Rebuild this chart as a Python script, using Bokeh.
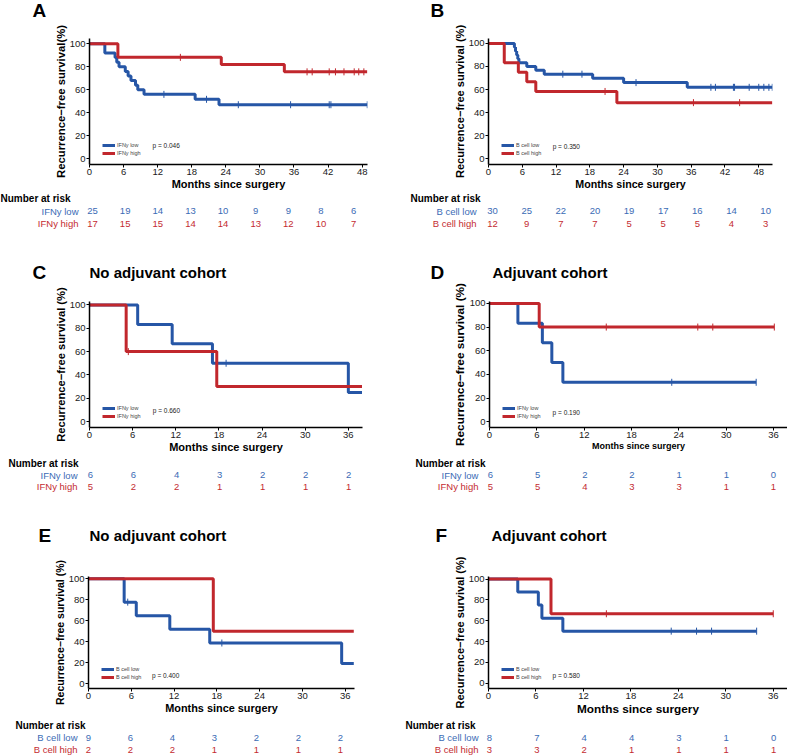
import numpy as np
from bokeh.plotting import figure
from bokeh.layouts import column, row
from bokeh.models import Range1d, FixedTicker, Legend, LegendItem, Label
from bokeh.core.properties import value
from bokeh.embed import file_html
from bokeh.resources import INLINE

BLUE = "#2656a6"
RED = "#c1272d"
BLUE_TXT = "#3b6bb5"
RED_TXT = "#c42b31"
FONT = "Liberation Sans"

# ---------------- data ----------------
y_ticks = [0, 20, 40, 60, 80, 100]
months_48 = [0, 6, 12, 18, 24, 30, 36, 42, 48]
months_36 = [0, 6, 12, 18, 24, 30, 36]

# Panel A - IFNy, all patients
a_low_times = [2.7, 4.5, 4.8, 5.2, 6.3, 6.8, 7.3, 8.1, 8.5, 9.6, 18.6, 22.8]
a_low_surv = [92, 88, 84, 80, 76, 72, 68, 64, 60, 56, 51.7, 47.0]
a_low_cens = [13.1, 20.6, 26.2, 35.4, 42.2, 42.5, 48.9]
a_low_end = 48.9
a_high_times = [5.0, 23.2, 34.3]
a_high_surv = [88.2, 81.9, 75.6]
a_high_cens = [16.0, 38.3, 39.2, 42.2, 43.3, 44.8, 46.6, 47.4, 48.3]
a_high_end = 48.9
a_risk_low = [25, 19, 14, 13, 10, 9, 9, 8, 6]
a_risk_high = [17, 15, 15, 14, 14, 13, 12, 10, 7]

# Panel B - B cell, all patients
b_low_times = [4.6, 4.8, 5.0, 5.2, 5.4, 6.8, 8.4, 9.9, 18.5, 24.0, 35.3]
b_low_surv = [96.7, 93.3, 90.0, 86.7, 83.3, 80.0, 76.7, 73.3, 69.7, 66.0, 61.9]
b_low_cens = [13.2, 16.6, 26.2, 39.5, 40.3, 43.5, 43.7, 46.3, 48.0, 48.9, 49.8, 50.4]
b_low_end = 50.4
b_high_times = [2.8, 5.3, 6.8, 8.4, 22.8]
b_high_surv = [83.3, 75.0, 66.7, 58.3, 48.6]
b_high_cens = [20.7, 36.4, 44.6]
b_high_end = 50.4
b_risk_low = [30, 25, 22, 20, 19, 17, 16, 14, 10]
b_risk_high = [12, 9, 7, 7, 5, 5, 5, 4, 3]

# Panel C - IFNy, no adjuvant
c_low_times = [6.7, 11.5, 17.1, 36.0]
c_low_surv = [83.3, 66.7, 50.0, 25.0]
c_low_cens = [19.0]
c_low_end = 37.9
c_high_times = [5.1, 17.7]
c_high_surv = [60.0, 30.0]
c_high_cens = [5.4]
c_high_end = 37.9
c_risk_low = [6, 6, 4, 3, 2, 2, 2]
c_risk_high = [5, 2, 2, 1, 1, 1, 1]

# Panel D - IFNy, adjuvant
d_low_times = [3.6, 6.7, 7.9, 9.3]
d_low_surv = [83.3, 66.7, 50.0, 33.3]
d_low_cens = [23.1, 33.8]
d_low_end = 33.8
d_high_times = [6.3]
d_high_surv = [80.0]
d_high_cens = [14.8, 26.4, 28.3, 36.1]
d_high_end = 36.1
d_risk_low = [6, 5, 2, 2, 1, 1, 0]
d_risk_high = [5, 5, 4, 3, 3, 1, 1]

# Panel E - B cell, no adjuvant
e_low_times = [5.0, 6.7, 11.4, 17.0, 35.5]
e_low_surv = [77.8, 64.8, 51.9, 38.9, 19.4]
e_low_cens = [5.5, 18.7]
e_low_end = 37.2
e_high_times = [17.5]
e_high_surv = [50.0]
e_high_cens = []
e_high_end = 37.2
e_risk_low = [9, 6, 4, 3, 2, 2, 2]
e_risk_high = [2, 2, 2, 1, 1, 1, 1]

# Panel F - B cell, adjuvant
f_low_times = [3.7, 6.3, 6.75, 9.4]
f_low_surv = [87.5, 75.0, 62.5, 50.0]
f_low_cens = [23.1, 26.3, 28.2, 33.9]
f_low_end = 33.9
f_high_times = [7.9]
f_high_surv = [66.7]
f_high_cens = [14.9, 36.0]
f_high_end = 36.0
f_risk_low = [8, 7, 4, 4, 3, 1, 0]
f_risk_high = [3, 3, 2, 1, 1, 1, 1]

ifn_labels = ["IFNy low", "IFNy high"]
bcell_labels = ["B cell low", "B cell high"]
ylab_a = "Recurrence\u2212free survival(%)"
ylab = "Recurrence\u2212free survival (%)"
xlab = "Months since surgery"


def surv_at(t, times, surv):
    idx = np.searchsorted(np.asarray(times), np.asarray(t), side="right")
    s = np.concatenate([[100.0], np.asarray(surv, dtype=float)])
    return s[idx]


def blank(width, height, xr, yr):
    p = figure(width=width, height=height, x_range=Range1d(*xr), y_range=Range1d(*yr),
               x_axis_location=None, y_axis_location=None, output_backend="svg",
               toolbar_location=None, min_border=0)
    p.outline_line_color = None
    p.xgrid.visible = False
    p.ygrid.visible = False
    p.grid.grid_line_color = None
    return p


def header_fig(width, height, letter, lx, ly, title=None, tx=None):
    p = blank(width, height, (0, width), (height, 0))
    p.text(x=[lx], y=[ly], text=[letter], text_font=value(FONT), text_font_style="bold",
           text_font_size="19px", text_baseline="middle", text_align="left", text_color="black")
    if title:
        p.text(x=[tx], y=[ly], text=[title], text_font=value(FONT), text_font_style="bold",
               text_font_size="15px", text_baseline="middle", text_align="left", text_color="black")
    return p


def km_fig(width, height, borders, xr, yr, xticks, ylabel, xlab_size, ylab_size,
           groups, labels, pval, ppos):
    p = figure(width=width, height=height, x_range=Range1d(*xr), y_range=Range1d(*yr),
               output_backend="svg", toolbar_location=None,
               min_border_left=borders[0], min_border_right=borders[1],
               min_border_top=borders[2], min_border_bottom=borders[3])
    p.outline_line_color = None
    p.grid.visible = False
    p.xaxis.ticker = FixedTicker(ticks=xticks)
    p.yaxis.ticker = FixedTicker(ticks=y_ticks)
    p.xaxis.axis_label = xlab
    p.yaxis.axis_label = ylabel
    for ax in (p.xaxis[0], p.yaxis[0]):
        ax.axis_line_width = 1.5
        ax.axis_line_color = "black"
        ax.major_tick_line_color = "black"
        ax.major_tick_line_width = 1
        ax.major_tick_in = 0
        ax.major_tick_out = 3
        ax.minor_tick_line_color = None
        ax.major_label_text_font = FONT
        ax.major_label_text_font_size = "9.5px"
        ax.major_label_text_color = "#1a1a1a"
        ax.major_label_standoff = 1
        ax.axis_label_text_font = FONT
        ax.axis_label_text_font_style = "bold"
        ax.axis_label_text_color = "black"
        ax.axis_label_standoff = 0
    p.xaxis.axis_label_text_font_size = xlab_size
    p.yaxis.axis_label_text_font_size = ylab_size

    rends = []
    for (times, surv, cens, end), color in zip(groups, [BLUE, RED]):
        xs = [0] + list(times) + [end]
        ys = [100] + list(surv) + [surv[-1]]
        r = p.step(xs, ys, mode="after", line_color=color, line_width=3)
        rends.append(r)
        if len(cens):
            cy = surv_at(cens, times, surv)
            p.scatter(list(cens), list(cy), marker="dash", angle=np.pi / 2, size=7,
                      line_color=color, line_width=1)
    legend = Legend(items=[LegendItem(label=labels[0], renderers=[rends[0]]),
                           LegendItem(label=labels[1], renderers=[rends[1]])],
                    location=(13, 7), glyph_width=13, glyph_height=8, label_height=8,
                    label_standoff=2, padding=0, spacing=0, margin=0,
                    label_text_font=FONT, label_text_font_size="5.5px",
                    background_fill_alpha=0, border_line_alpha=0)
    p.add_layout(legend)
    p.add_layout(Label(x=ppos[0], y=ppos[1], text="p = " + pval, text_font=FONT,
                       text_font_size="6.5px", text_baseline="middle", text_color="#222222"))
    return p


def risk_fig(width, height, xr, yr, months, low, high, labels, label_off, header_off, fs="9.5px"):
    p = blank(width, height, xr, yr)
    p.text(x=months, y=[1] * len(months), text=[str(v) for v in low], text_color=BLUE_TXT,
           text_align="center", text_baseline="middle", text_font=value(FONT), text_font_size=fs)
    p.text(x=months, y=[2] * len(months), text=[str(v) for v in high], text_color=RED_TXT,
           text_align="center", text_baseline="middle", text_font=value(FONT), text_font_size=fs)
    p.text(x=[0, 0], y=[1, 2], text=labels, text_color=[BLUE_TXT, RED_TXT], x_offset=label_off,
           text_align="right", text_baseline="middle", text_font=value(FONT), text_font_size=fs)
    p.text(x=[0], y=[0], text=["Number at risk"], x_offset=header_off, text_color="black",
           text_align="left", text_baseline="middle", text_font=value(FONT),
           text_font_style="bold", text_font_size="10px")
    return p


LW, RW = 390, 397

# Row 1: A / B  (page y 0-24 header, 24-192 plot, 192-234 risk)
hA = header_fig(LW, 24, "A", 32, 10)
hB = header_fig(RW, 24, "B", 40, 10)
kA = km_fig(LW, 168, (89, 23, 14, 28), (0, 48.94), (-5.0, 104.6), months_48, ylab_a,
            "11px", "11.3px",
            [(a_low_times, a_low_surv, a_low_cens, a_low_end),
             (a_high_times, a_high_surv, a_high_cens, a_high_end)],
            ifn_labels, "0.046", (11.1, 11.5))
kB = km_fig(RW, 168, (98, 15, 12, 28), (0, 50.44), (-5.13, 104.3), months_48, ylab,
            "10.7px", "11.1px",
            [(b_low_times, b_low_surv, b_low_cens, b_low_end),
             (b_high_times, b_high_surv, b_high_cens, b_high_end)],
            bcell_labels, "0.350", (11.4, 10.3))
rA = risk_fig(LW, 42, (-16.91, 54.78), (2.88, -0.48), months_48, a_risk_low, a_risk_high,
              ifn_labels, -14, -92)
rB = risk_fig(RW, 42, (-17.93, 51.84), (2.88, -0.48), months_48, b_risk_low, b_risk_high,
              bcell_labels, -16, -82)

# Row 2: C / D  (page y 234-282 header, 282-456 plot, 456-496 risk)
hC = header_fig(LW, 48, "C", 32, 38, "No adjuvant cohort", 89)
hD = header_fig(RW, 48, "D", 40, 38, "Adjuvant cohort", 102)
kC = km_fig(LW, 174, (89, 28, 19, 29), (0, 37.97), (-5.13, 103.0), months_36, ylab,
            "11px", "11.2px",
            [(c_low_times, c_low_surv, c_low_cens, c_low_end),
             (c_high_times, c_high_surv, c_high_cens, c_high_end)],
            ifn_labels, "0.660", (8.8, 9.4))
kD = km_fig(RW, 174, (99, 0, 16, 28), (0, 37.77), (-4.92, 101.6), months_36, ylab,
            "9px", "11.8px",
            [(d_low_times, d_low_surv, d_low_cens, d_low_end),
             (d_high_times, d_high_surv, d_high_cens, d_high_end)],
            ifn_labels, "0.190", (8.0, 7.4))
rC = risk_fig(LW, 40, (-12.55, 41.84), (2.792, -0.542), months_36, c_risk_low, c_risk_high,
              ifn_labels, -13, -82)
rD = risk_fig(RW, 40, (-12.72, 37.79), (2.792, -0.542), months_36, d_risk_low, d_risk_high,
              ifn_labels, -12, -75)

# Row 3: E / F  (page y 496-552 header, 552-718 plot, 718-756 risk)
hE = header_fig(LW, 56, "E", 38, 39, "No adjuvant cohort", 89)
hF = header_fig(RW, 56, "F", 45, 39, "Adjuvant cohort", 101)
kE = km_fig(LW, 166, (88, 36, 24, 29), (0, 37.3), (-4.4, 102.2), months_36, ylab,
            "10.9px", "10.5px",
            [(e_low_times, e_low_surv, e_low_cens, e_low_end),
             (e_high_times, e_high_surv, e_high_cens, e_high_end)],
            bcell_labels, "0.400", (8.9, 7.8))
kF = km_fig(RW, 166, (98, 0, 18, 28), (0, 37.8), (-5.1, 102.5), months_36, ylab,
            "11.8px", "11px",
            [(f_low_times, f_low_surv, f_low_cens, f_low_end),
             (f_high_times, f_high_surv, f_high_cens, f_high_end)],
            bcell_labels, "0.580", (8.1, 7.5))
rE = risk_fig(LW, 38, (-12.57, 43.14), (2.583, -0.583), months_36, e_risk_low, e_risk_high,
              bcell_labels, -11, -73)
rF = risk_fig(RW, 38, (-12.55, 37.77), (2.583, -0.583), months_36, f_risk_low, f_risk_high,
              bcell_labels, -11, -84)

layout = column(
    row(hA, hB), row(kA, kB), row(rA, rB),
    row(hC, hD), row(kC, kD), row(rC, rD),
    row(hE, hF), row(kE, kF), row(rE, rF),
)

open("out.html", "w").write(file_html(layout, INLINE))
